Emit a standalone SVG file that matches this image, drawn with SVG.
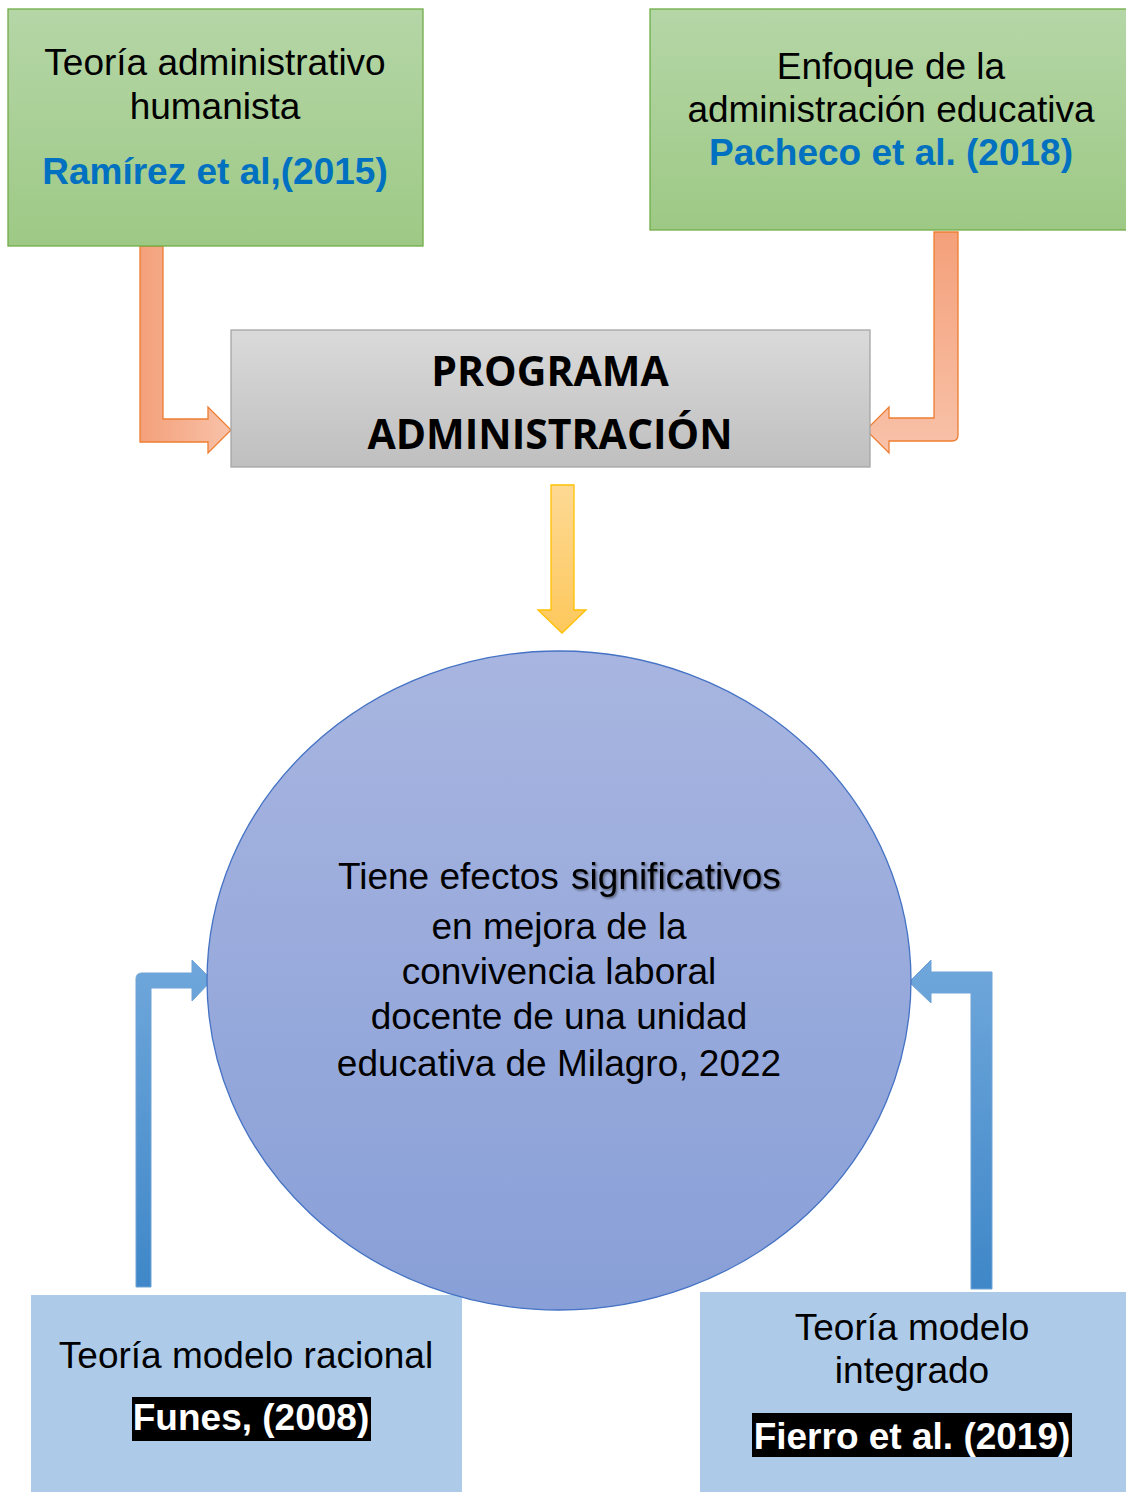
<svg xmlns="http://www.w3.org/2000/svg" width="1126" height="1492" viewBox="0 0 1126 1492">
<defs>
<linearGradient id="gGreen" x1="0" y1="0" x2="0" y2="1"><stop offset="0" stop-color="#b5d6a7"/><stop offset="1" stop-color="#9dc985"/></linearGradient>
<linearGradient id="gGray" x1="0" y1="0" x2="0" y2="1"><stop offset="0" stop-color="#dadada"/><stop offset="1" stop-color="#bfbfbf"/></linearGradient>
<linearGradient id="gOrH" x1="0" y1="0" x2="1" y2="0"><stop offset="0" stop-color="#f4a07a"/><stop offset="1" stop-color="#f8c2a9"/></linearGradient>
<linearGradient id="gOrV" x1="0" y1="0" x2="0" y2="1"><stop offset="0" stop-color="#f4a07a"/><stop offset="1" stop-color="#f8c2a9"/></linearGradient>
<linearGradient id="gYel" x1="0" y1="0" x2="0" y2="1"><stop offset="0" stop-color="#fed994"/><stop offset="1" stop-color="#fdc85c"/></linearGradient>
<linearGradient id="gCirc" x1="0" y1="0" x2="0" y2="1"><stop offset="0" stop-color="#a8b5e0"/><stop offset="1" stop-color="#889fd7"/></linearGradient>
<linearGradient id="gBlue" x1="0" y1="0" x2="0" y2="1"><stop offset="0" stop-color="#6fa7db"/><stop offset="1" stop-color="#3f87c8"/></linearGradient>
<filter id="shadow" x="-10%" y="-30%" width="120%" height="160%"><feDropShadow dx="1.5" dy="1.5" stdDeviation="1.2" flood-color="#000" flood-opacity="0.45"/></filter>
</defs>
<style>
.t{font-family:"Liberation Sans",Arial,sans-serif;font-size:37px;fill:#000;text-anchor:middle}
.b{font-family:"Liberation Sans",Arial,sans-serif;font-size:37px;font-weight:bold;text-anchor:middle}
.s{text-anchor:start}
.blue{fill:#0070c0}
.wh{fill:#ffffff}
.prog{font-family:"Open Sans","Liberation Sans",sans-serif;font-size:41px;font-weight:bold;fill:#000;text-anchor:middle}
.green{fill:url(#gGreen);stroke:#70ad47;stroke-width:1.3}
.lb{fill:#adcbe9}
.orange{stroke:#ed7d31;stroke-width:1.3;stroke-linejoin:miter}
.bluearr{fill:url(#gBlue);stroke:#6fa3d6;stroke-width:1}
</style>
<g id="connectors">
<path class="orange" fill="url(#gOrH)" d="M140,246 L163,246 L163,419 L208,419 L208,407 L231,430 L208,453 L208,442 L140,442 Z"/>
<path class="orange" fill="url(#gOrV)" d="M934,232 L958,232 L958,435 Q958,441 952,441 L889,441 L889,453 L866,430 L889,407 L889,418 L934,418 Z"/>
<path fill="url(#gYel)" stroke="#ffc000" stroke-width="1.3" d="M551,485 L574,485 L574,610 L586,610 L562,633 L538,610 L551,610 Z"/>
<path class="bluearr" d="M136,1287 L136,979 Q136,973 142,973 L192,973 L192,960 L212,980 L192,1001 L192,988 L151,988 L151,1287 Z"/>
<path class="bluearr" d="M992,1289 L992,972 L931,972 L931,960 L909,982 L931,1003 L931,993 L971,993 L971,1289 Z"/>
</g>
<g id="node-teoria-humanista">
<rect class="green" x="8" y="9" width="415" height="237"/>
<text class="t" x="215" y="75">Teoría administrativo</text>
<text class="t" x="215" y="119">humanista</text>
<text class="b blue" x="215" y="184">Ramírez et al,(2015)</text>
</g>
<g id="node-enfoque">
<rect class="green" x="650" y="9" width="480" height="221"/>
<text class="t" x="891" y="79">Enfoque de la</text>
<text class="t" x="891" y="122">administración educativa</text>
<text class="b blue" x="891" y="165">Pacheco et al. (2018)</text>
</g>
<g id="node-programa">
<rect x="231" y="330" width="639" height="137" fill="url(#gGray)" stroke="#a5a5a5" stroke-width="1.3"/>
<text class="prog" x="550" y="386">PROGRAMA</text>
<text class="prog" x="550" y="449">ADMINISTRACIÓN</text>
</g>
<g id="node-racional">
<rect class="lb" x="31" y="1295" width="431" height="197"/>
<text class="t" x="246" y="1368">Teoría modelo racional</text>
<rect x="132" y="1397" width="239" height="44" fill="#000"/>
<text class="b wh" x="251" y="1430">Funes, (2008)</text>
</g>
<g id="node-integrado">
<rect class="lb" x="700" y="1292" width="426" height="200"/>
<text class="t" x="912" y="1340">Teoría modelo</text>
<text class="t" x="912" y="1383">integrado</text>
<rect x="752" y="1413" width="320" height="44" fill="#000"/>
<text class="b wh" x="912" y="1449">Fierro et al. (2019)</text>
</g>
<g id="node-efectos">
<ellipse cx="559" cy="980.5" rx="352" ry="329.5" fill="url(#gCirc)" stroke="#4472c4" stroke-width="1.3"/>
<text class="t s" x="338" y="889">Tiene efectos </text>
<text class="t s" x="571" y="889" filter="url(#shadow)">significativos</text>
<text class="t" x="559" y="939">en mejora de la</text>
<text class="t" x="559" y="984">convivencia laboral</text>
<text class="t" x="559" y="1029">docente de una unidad</text>
<text class="t" x="559" y="1076">educativa de Milagro, 2022</text>
</g>
</svg>
